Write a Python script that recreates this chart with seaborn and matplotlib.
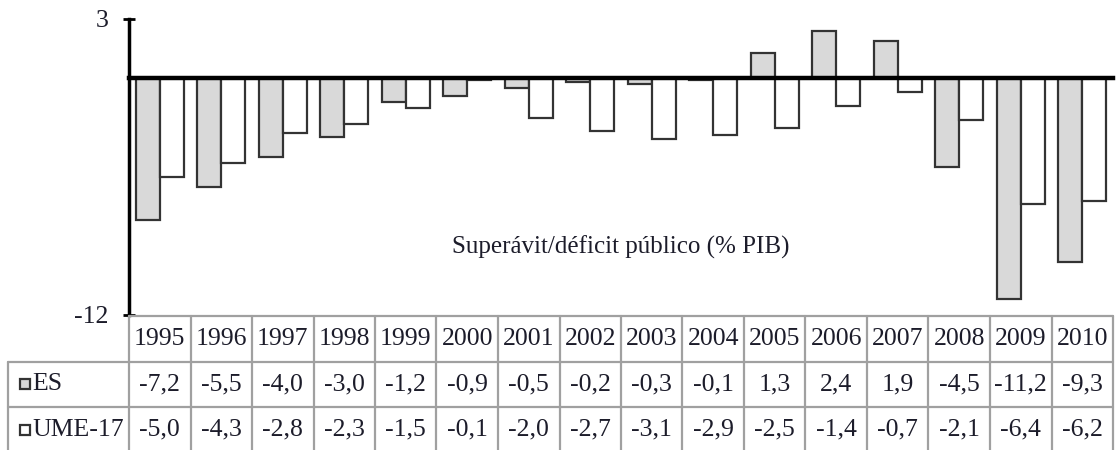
import matplotlib
matplotlib.use("Agg")
import matplotlib.pyplot as plt
import seaborn as sns
import pandas as pd
from matplotlib.patches import Rectangle

years = ["1995", "1996", "1997", "1998", "1999", "2000", "2001", "2002",
         "2003", "2004", "2005", "2006", "2007", "2008", "2009", "2010"]
es_values = [-7.2, -5.5, -4.0, -3.0, -1.2, -0.9, -0.5, -0.2,
             -0.3, -0.1, 1.3, 2.4, 1.9, -4.5, -11.2, -9.3]
ume_values = [-5.0, -4.3, -2.8, -2.3, -1.5, -0.1, -2.0, -2.7,
              -3.1, -2.9, -2.5, -1.4, -0.7, -2.1, -6.4, -6.2]
series_names = ["ES", "UME-17"]
series_colors = {"ES": "#d9d9d9", "UME-17": "#ffffff"}
chart_label = "Superávit/déficit público (% PIB)"
y_ticks = [3, -12]

sns.set_style("white")
plt.rcParams["font.family"] = ["Liberation Serif", "DejaVu Serif"]
TXT = "#1c1c2a"
FS = 18.5

df = pd.DataFrame({
    "year": years * 2,
    "series": ["ES"] * len(years) + ["UME-17"] * len(years),
    "value": es_values + ume_values,
})

W, H = 1117, 450
fig = plt.figure(figsize=(W / 100, H / 100), dpi=100)
x0, x1 = 129, 1113
ytop, ybot = 19, 315
ax = fig.add_axes([x0 / W, 1 - ybot / H, (x1 - x0) / W, (ybot - ytop) / H])

sns.barplot(data=df, x="year", y="value", hue="series", order=years,
            hue_order=series_names, palette=series_colors, edgecolor="#333333",
            linewidth=1.6, width=0.78, legend=False, ax=ax)
ax.set_xlim(-0.5, len(years) - 0.5)
ax.set_ylim(-12, 3)
ax.set_xlabel("")
ax.set_ylabel("")
ax.set_yticks(y_ticks)
ax.set_yticklabels([str(t) for t in y_ticks], fontsize=FS, color=TXT)
ax.tick_params(axis="y", direction="inout", length=9, width=2, color="black", pad=10, left=True)
ax.tick_params(axis="x", length=0, labelbottom=False)
for s in ["top", "right"]:
    ax.spines[s].set_visible(False)
ax.spines["left"].set_linewidth(2.5)
ax.spines["left"].set_color("black")
ax.spines["bottom"].set_position(("data", 0))
ax.spines["bottom"].set_linewidth(3.2)
ax.spines["bottom"].set_color("black")
ax.text(0.5, 0.23, chart_label, transform=ax.transAxes, ha="center", va="center",
        fontsize=FS - 0.5, color=TXT)

# ---- data table ----
n = len(years)
label_w = (x0 - 8) / ((x1 - x0) / n)
tx0 = 8
ttop = 316
tax = fig.add_axes([tx0 / W, 0, (x1 - tx0) / W, (H - ttop) / H])
tax.set_xlim(-0.5 - label_w, n - 0.5)
row_h_px = 45.5
tax.set_ylim((H - ttop) / row_h_px, 0)
tax.axis("off")
LC = "#a0a0a0"
LW = 1.6
# horizontal lines
tax.plot([-0.5, n - 0.5], [0, 0], color=LC, lw=LW, clip_on=False)
for r in (1, 2):
    tax.plot([-0.5 - label_w, n - 0.5], [r, r], color=LC, lw=LW, clip_on=False)
# vertical lines
for k in range(n + 1):
    tax.plot([-0.5 + k, -0.5 + k], [0, 3], color=LC, lw=LW, clip_on=False)
tax.plot([-0.5 - label_w, -0.5 - label_w], [1, 3], color=LC, lw=LW, clip_on=False)

fmt = lambda v: f"{v:.1f}".replace(".", ",")
for i, y in enumerate(years):
    tax.text(i, 0.5, y, ha="center", va="center", fontsize=FS, color=TXT)
    tax.text(i, 1.5, fmt(es_values[i]), ha="center", va="center", fontsize=FS, color=TXT)
    tax.text(i, 2.5, fmt(ume_values[i]), ha="center", va="center", fontsize=FS, color=TXT)

unit = (x1 - x0) / n  # px per column
sq = 10 / unit
for r, name in enumerate(series_names, start=1):
    lx = -0.5 - label_w + 12 / unit
    tax.add_patch(Rectangle((lx, r + 0.5 - 0.11), sq, 0.22,
                            facecolor=series_colors[name], edgecolor="#333333", lw=1.6))
    tax.text(lx + sq + 2 / unit, r + 0.5, name, ha="left", va="center",
             fontsize=FS, color=TXT)

fig.savefig("out.png", dpi=100)
